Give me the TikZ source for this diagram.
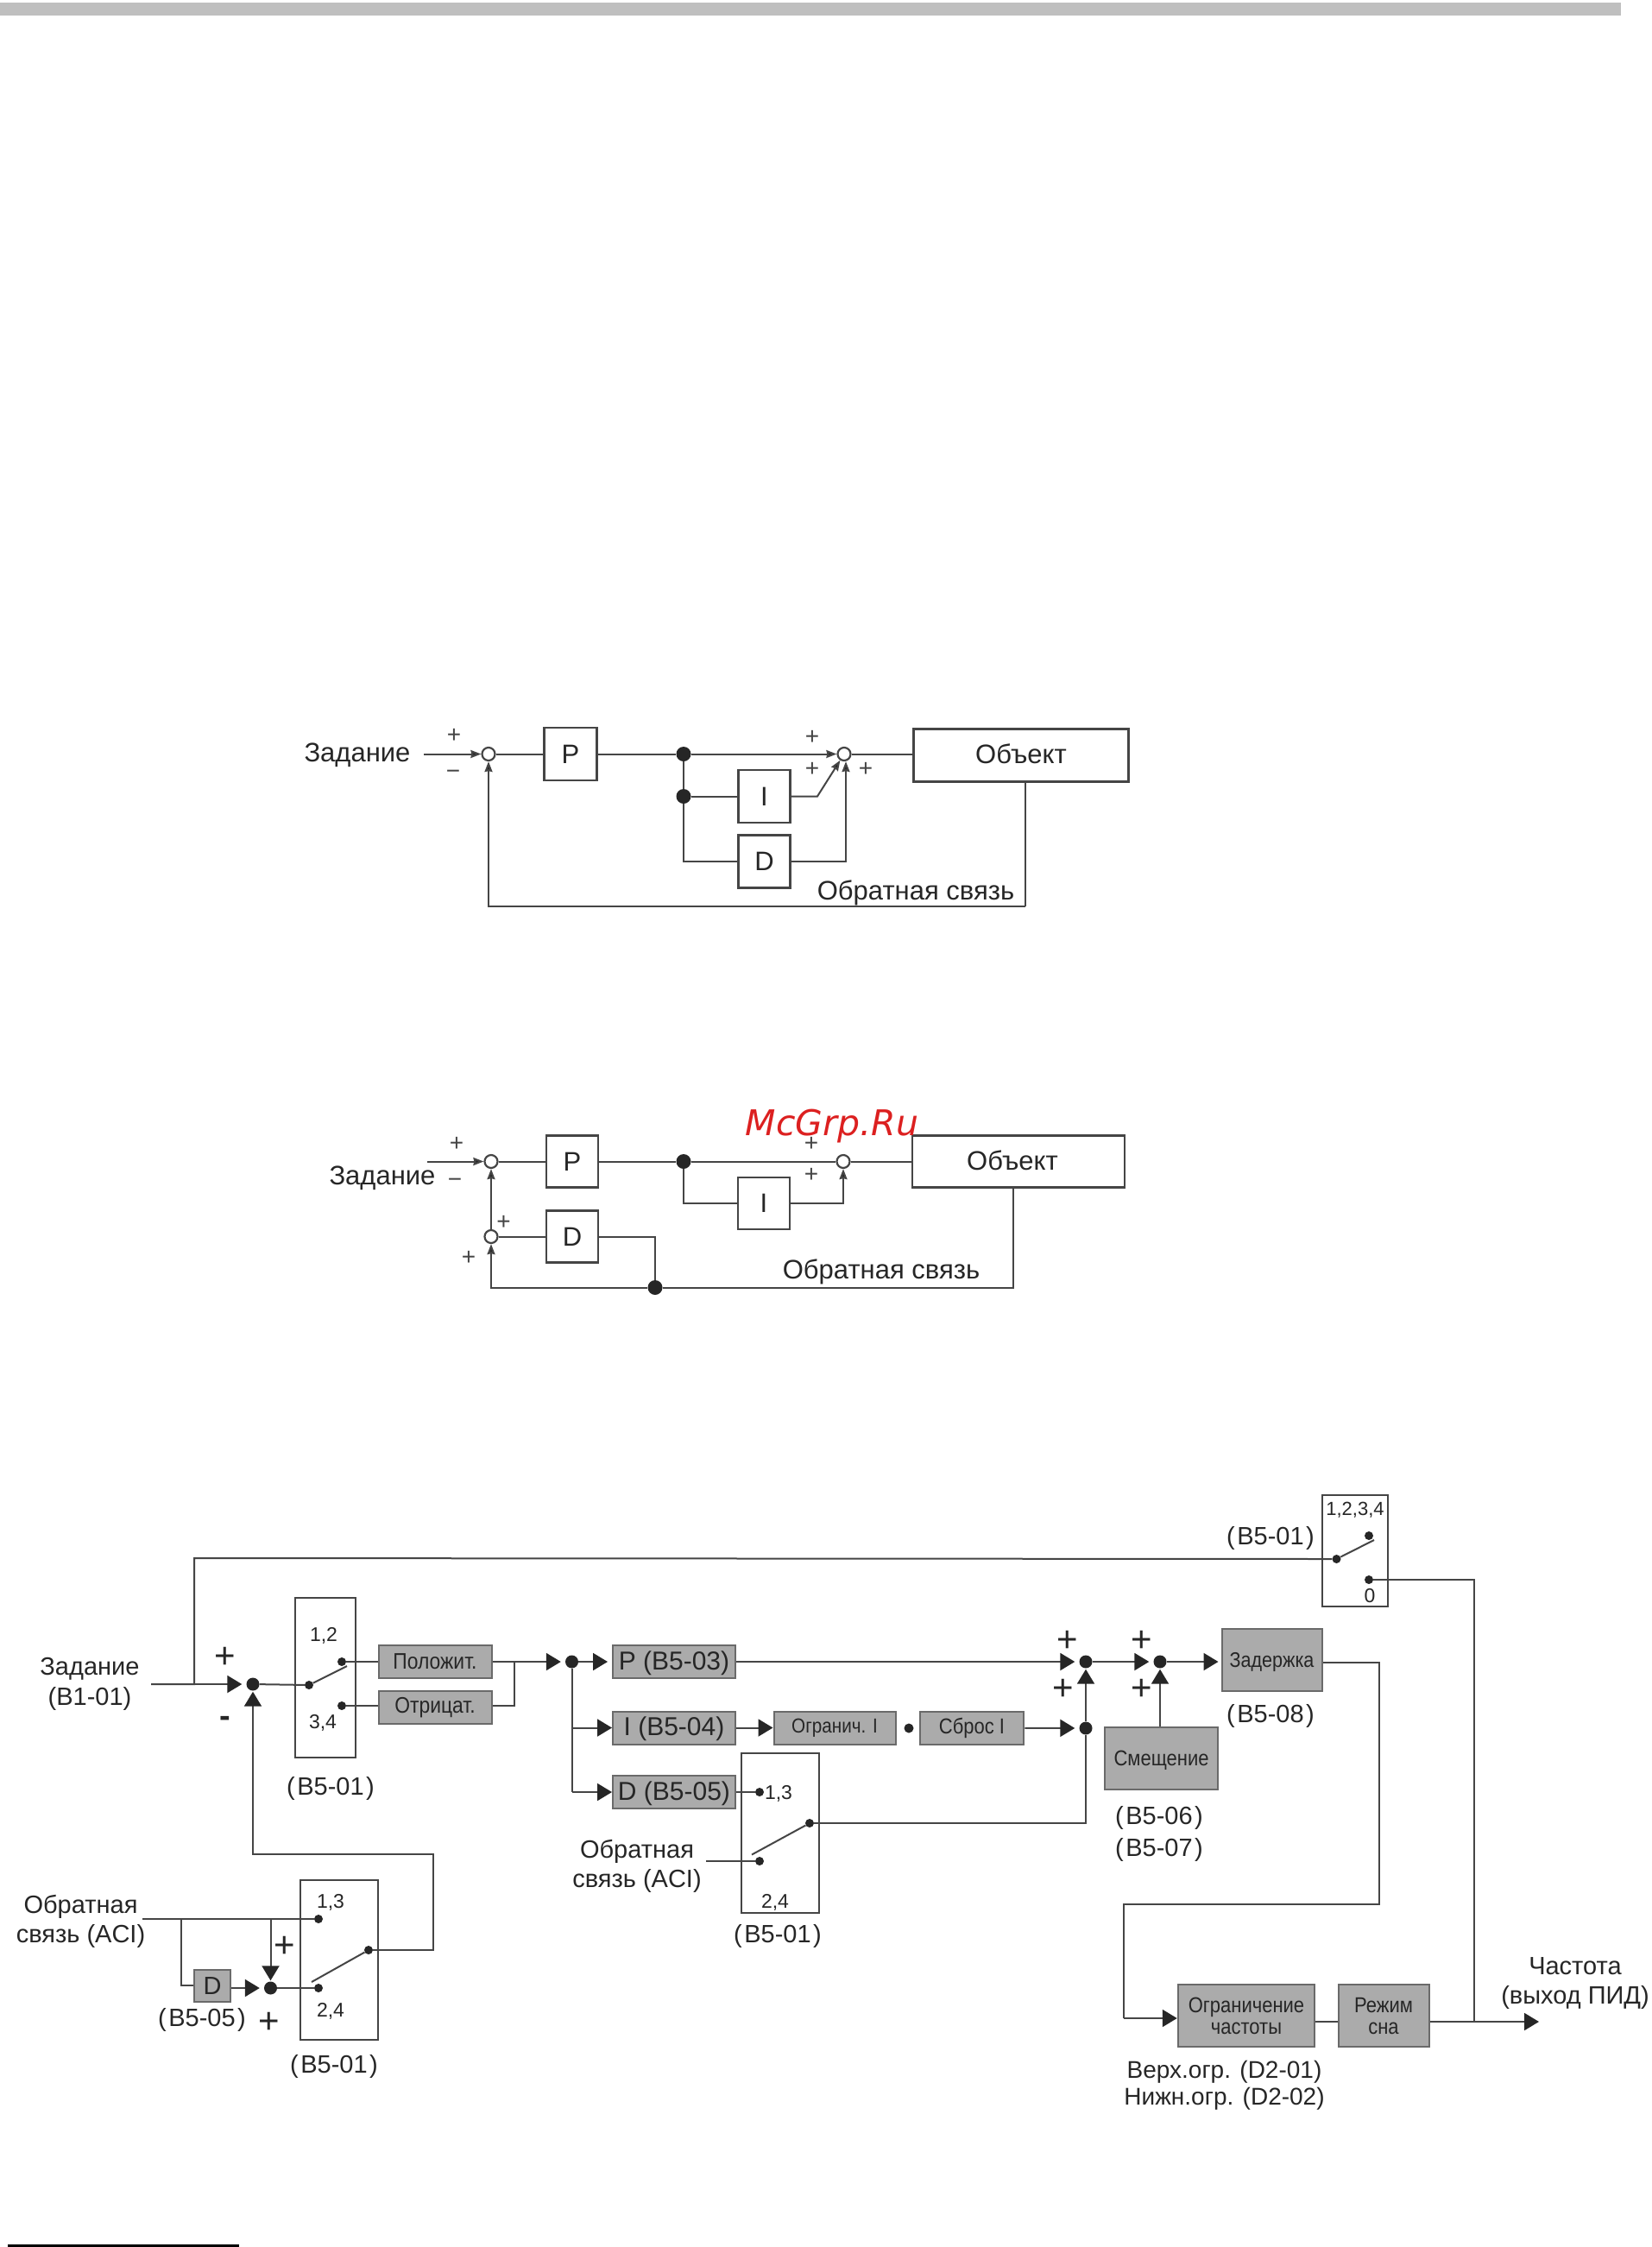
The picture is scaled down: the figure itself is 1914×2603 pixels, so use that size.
\documentclass[tikz,border=0pt]{standalone}
\usepackage{fontspec}
\setmainfont{Liberation Sans}
\newfontfamily\markfont{DejaVu Sans}
\newfontfamily\narrowfont[FakeStretch=0.88]{Liberation Sans}
\usetikzlibrary{arrows.meta}
\definecolor{linegray}{HTML}{454545}
\definecolor{boxgray}{HTML}{ABABAB}
\definecolor{textgray}{HTML}{262626}
\definecolor{markred}{HTML}{DC2020}
\newcommand{\fs}[1]{\fontsize{#1}{#1}\selectfont}
\newcommand{\pnum}[1]{(\kern2.5pt #1\kern2.5pt)}
\tikzset{
  wire/.style={draw=linegray,line width=2pt},
  thinarrow/.style={wire,-{Stealth[length=12pt,width=9pt,inset=1pt,fill=black!85]}},
  bigarrow/.style={wire,-{Triangle[length=17pt,width=20pt,fill=black!85,color=black!85]},shorten >=5pt},
  plainbox/.style={draw=linegray,line width=2.2pt,fill=white,inner sep=0pt,font=\fs{31},text=textgray},
  graybox/.style={draw=linegray!80,line width=2pt,fill=boxgray,inner sep=0pt,font=\narrowfont\fs{26},text=textgray,align=center},
  selbox/.style={draw=linegray,line width=2pt,inner sep=0pt},
  sumring/.style={circle,draw=linegray,line width=2.2pt,fill=white,inner sep=0pt,minimum size=15pt},
  sumdot/.style={circle,fill=black!85,inner sep=0pt,minimum size=15pt},
  pin/.style={circle,fill=black!85,inner sep=0pt,minimum size=10pt},
  label/.style={text=textgray,font=\fs{29},inner sep=0pt,align=center,yshift=-2.5pt},
  small/.style={text=textgray,font=\fs{23},inner sep=0pt,yshift=-1.5pt},
  bigplus/.style={text=black!85,font=\fs{42},inner sep=0pt,yshift=-3pt,xshift=1pt},
  thinplus/.style={text=linegray,font=\fs{28},inner sep=0pt,yshift=-1.5pt,xshift=1pt},
}
\begin{document}
\begin{tikzpicture}[x=1pt,y=-1pt]
    \useasboundingbox (0,0) rectangle (1914,2603);
    \fill[black!25] (0,3) rectangle (1878,18);
    \fill[black] (9,2600) rectangle (277,2603);

    % first loop
    \node [label,font=\fs{31}] (aref) at (414,872) {Задание};
    \coordinate (ain) at (491,873.5);
    \node [sumring] (asum) at (566,873.5) {};
    \node [plainbox,minimum width=61pt,minimum height=61pt] (ap) at (661,873.5) {P};
    \node [sumdot,minimum size=17pt] (ad1) at (792,873.5) {};
    \node [sumdot,minimum size=17pt] (ad2) at (792,922.5) {};
    \node [plainbox,minimum width=60pt,minimum height=61pt] (ai) at (885.5,922.5) {I};
    \node [plainbox,minimum width=60pt,minimum height=61pt] (ad) at (885.5,998) {D};
    \node [sumring] (asum2) at (978,873.5) {};
    \node [plainbox,minimum width=249pt,minimum height=61pt] (aobj) at (1183,875) {\raisebox{4pt}{Объект}};
    \coordinate (acorner) at (947,922.5);
    \coordinate (aback) at (1188,1050);
    \node [label,font=\fs{31}] (afb) at (1061,1032) {Обратная связь};
    \draw[thinarrow] (ain) -- (asum);
    \draw[wire] (asum) -- (ap);
    \draw[wire] (ap) -- (ad1);
    \draw[thinarrow] (ad1) -- (asum2);
    \draw[wire] (ad1) -- (ad2);
    \draw[wire] (ad2) -- (ai);
    \draw[wire] (ad2) |- (ad);
    \draw[thinarrow] (ai.east) -- (acorner) -- (asum2);
    \draw[thinarrow] (ad.east) -| ([xshift=2pt]asum2.south);
    \draw[wire] (asum2) -- (aobj.west |- asum2);
    \draw[wire] (aobj.south -| aback) -- (aback);
    \draw[thinarrow] (aback) -| (asum);
    \node [thinplus] (ap1) at (525,851) {+};
    \node [thinplus] (am1) at (524,896) {−};
    \node [thinplus] (ap2) at (940,853) {+};
    \node [thinplus] (ap3) at (940,889.5) {+};
    \node [thinplus] (ap4) at (1002,889.5) {+};

    % second loop
    \node [label,font=\fs{31}] (bref) at (443,1362) {Задание};
    \coordinate (bin) at (495,1345.5);
    \node [sumring] (bsum) at (569,1345.5) {};
    \node [plainbox,minimum width=60pt,minimum height=60pt] (bp) at (663,1345.5) {P};
    \node [sumdot,minimum size=17pt] (bd1) at (792,1345.5) {};
    \node [plainbox,minimum width=60pt,minimum height=60pt] (bi) at (885,1394) {I};
    \node [sumring] (bsum2) at (977,1345.5) {};
    \node [plainbox,minimum width=246pt,minimum height=60pt] (bobj) at (1180,1345.5) {\raisebox{2pt}{Объект}\kern14pt};
    \node [plainbox,minimum width=60pt,minimum height=60pt] (bd) at (663,1432.5) {D};
    \node [sumring] (bsum3) at (569,1432.5) {};
    \node [sumdot,minimum size=17pt] (bd2) at (759,1491.5) {};
    \coordinate (bback) at (1174,1491.5);
    \node [label,font=\fs{31}] (bfb) at (1021,1471) {Обратная связь};
    \draw[thinarrow] (bin) -- (bsum);
    \draw[wire] (bsum) -- (bp);
    \draw[wire] (bp) -- (bd1);
    \draw[wire] (bd1) -- (bsum2);
    \draw[wire] (bsum2) -- (bobj);
    \draw[wire] (bd1) |- (bi);
    \draw[thinarrow] (bi) -| (bsum2);
    \draw[thinarrow] (bsum3) -- (bsum);
    \draw[wire] (bsum3) -- (bd);
    \draw[wire] (bd) -| (bd2);
    \draw[wire] (bobj.south -| bback) -- (bback) -- (bd2);
    \draw[thinarrow] (bd2) -| (bsum3);
    \node [thinplus] (bp1) at (528,1324) {+};
    \node [thinplus] (bm1) at (526,1369) {−};
    \node [thinplus] (bp2) at (939,1324) {+};
    \node [thinplus] (bp3) at (939,1360) {+};
    \node [thinplus] (bp4) at (582.5,1415) {+};
    \node [thinplus] (bp5) at (542,1456) {+};

    % PID scheme
    \node [label] (cref) at (104,1948) {Задание\\[6pt](B1-01)};
    \coordinate (cin) at (175,1951);
    \coordinate (cup) at (225,1951);
    \node [sumdot] (cs1) at (293,1951) {};
    \node [bigplus] (cp1) at (260,1917) {+};
    \node [bigplus,font=\fs{38}\bfseries] (cm1) at (260,1991) {-};
    % selector 1
    \node [selbox,minimum width=70pt,minimum height=185pt] (csel1) at (377,1943.5) {};
    \node [small] (c12) at (375,1893) {1,2};
    \node [small] (c34) at (374,1994) {3,4};
    \node [pin] (cq1) at (358,1952) {};
    \node [pin] (cq2) at (396,1925) {};
    \node [pin] (cq3) at (396,1976) {};
    \coordinate (clev1) at (402,1930);
    \node [label] (csl1) at (383,2069) {\pnum{B5-01}};
    \node [graybox,minimum width=131pt,minimum height=38pt] (cpos) at (504,1924.5) {Положит.};
    \node [graybox,minimum width=131pt,minimum height=38pt] (cneg) at (504,1978) {Отрицат.};
    \coordinate (cjoin) at (596,1925);
    \node [sumdot] (cs2) at (662.5,1925) {};
    \node [graybox,minimum width=142pt,minimum height=38pt,font=\fs{30},text depth=3pt] (cbp) at (781,1925) {P (B5-03)};
    \node [graybox,minimum width=142pt,minimum height=38pt,font=\fs{30},text depth=3pt] (cbi) at (781,2001.5) {I (B5-04)};
    \node [graybox,minimum width=142pt,minimum height=38pt,font=\fs{30},text depth=3pt] (cbd) at (781,2076) {D (B5-05)};
    \node [graybox,minimum width=141pt,minimum height=38pt,font=\narrowfont\fs{23.5}] (clim) at (967,2001.5) {Огранич. I};
    \node [pin,minimum size=11pt] (cgap) at (1053,2002) {};
    \node [graybox,minimum width=120.5pt,minimum height=38pt,font=\narrowfont\fs{25}] (crst) at (1126,2001.5) {Сброс I};
    % selector 2
    \node [selbox,minimum width=90pt,minimum height=185pt] (csel2) at (904,2123.5) {};
    \node [pin] (cr1) at (880,2076) {};
    \node [small] (c13) at (902,2076) {1,3};
    \node [pin] (cr2) at (880,2156) {};
    \node [pin] (cr3) at (938,2112) {};
    \coordinate (clev2) at (871,2148.5);
    \node [small] (c24) at (898,2202) {2,4};
    \node [label] (csl2) at (901,2240) {\pnum{B5-01}};
    \node [label] (cfb2) at (738,2159) {Обратная\\[5pt]связь (ACI)};
    \coordinate (cfbin2) at (818,2156);
    % summing points
    \node [sumdot] (cs3) at (1258,1925) {};
    \node [sumdot] (cs4) at (1258,2002) {};
    \node [sumdot] (cs5) at (1344,1925) {};
    \node [bigplus] (cp2) at (1236,1898) {+};
    \node [bigplus] (cp3) at (1231,1954) {+};
    \node [bigplus] (cp4) at (1322,1898) {+};
    \node [bigplus] (cp5) at (1322,1954) {+};
    \node [graybox,minimum width=116pt,minimum height=72pt,font=\narrowfont\fs{24.5},text depth=0pt] (cdel) at (1473.5,1923) {Задержка};
    \node [label] (cdl) at (1472,1985) {\pnum{B5-08}};
    \node [graybox,minimum width=131pt,minimum height=72pt,font=\narrowfont\fs{25},text depth=0pt] (cbias) at (1345.5,2037) {Смещение};
    \node [label] (cbl) at (1343,2121.5) {\pnum{B5-06}\\[8pt]\pnum{B5-07}};
    \coordinate (cb1) at (1598,1926);
    \coordinate (cb2) at (1598,2206);
    \coordinate (cb3) at (1302,2206);
    \coordinate (cb4) at (1302,2338);
    \node [graybox,minimum width=158.5pt,minimum height=72pt,font=\narrowfont\fs{25}] (cfl) at (1444,2335) {Ограничение\\[0pt]частоты};
    \node [graybox,minimum width=105pt,minimum height=72pt,font=\narrowfont\fs{25}] (csl) at (1603,2335) {Режим\\[0pt]сна};
    \node [label,font=\fs{28}] (cul) at (1418.5,2413.5) {Верх.огр. (D2-01)\\[3pt]Нижн.огр. (D2-02)};
    \coordinate (cjout) at (1708,2342);
    \coordinate (cout) at (1783,2342);
    \node [label] (cfreq) at (1825,2295) {Частота\\[5pt](выход ПИД)};
    % selector 3
    \node [selbox,minimum width=76.5pt,minimum height=129pt] (csel3) at (1570,1796) {};
    \node [small,font=\fs{22}] (c1234) at (1570,1748) {1,2,3,4};
    \node [small] (c0) at (1587,1847.5) {0};
    \node [pin] (cz1) at (1548.5,1806) {};
    \node [pin] (cz2) at (1586,1779) {};
    \node [pin] (cz3) at (1586,1830) {};
    \coordinate (clev3) at (1592,1784);
    \node [label] (csl3) at (1472,1779) {\pnum{B5-01}};
    \coordinate (ctop) at (225,1805);
    % selector 4
    \node [selbox,minimum width=90.5pt,minimum height=185pt] (csel4) at (393,2270.5) {};
    \node [small] (c13b) at (383,2202) {1,3};
    \node [small] (c24b) at (383,2328) {2,4};
    \node [pin] (cy1) at (369,2223) {};
    \node [pin] (cy2) at (369,2303) {};
    \node [pin] (cy3) at (427,2259) {};
    \coordinate (clev4) at (361,2296);
    \node [label] (csl4) at (387,2391) {\pnum{B5-01}};
    \node [label] (cfb1) at (93.5,2223.5) {Обратная\\[5pt]связь (ACI)};
    \coordinate (cfbin1) at (165,2223);
    \coordinate (cfbj1) at (209.5,2223);
    \coordinate (cfbj2) at (313.5,2223);
    \coordinate (cback1) at (501.5,2259);
    \coordinate (cback2) at (501.5,2148);
    \node [graybox,minimum width=42pt,minimum height=37pt,font=\fs{29}] (cdd) at (246,2300) {D};
    \node [sumdot] (cs6) at (313.5,2303) {};
    \node [label] (cdl2) at (234,2337) {\pnum{B5-05}};
    \node [bigplus] (cp6) at (329,2252) {+};
    \node [bigplus] (cp7) at (311,2340) {+};

    \draw[wire] (cin) -- (cup) -- (ctop) -- (cz1);
    \draw[bigarrow] (cup) -- (cs1);
    \draw[wire] (cs1) -- (cq1);
    \draw[wire] (cq1) -- (clev1);
    \draw[wire] (cq2) -- (cpos.west |- cq2);
    \draw[wire] (cq3) -- (cneg.west |- cq3);
    \draw[bigarrow] (cpos.east |- cs2) -- (cs2);
    \draw[wire] (cneg.east |- cq3) -| (cjoin);
    \draw[bigarrow] (cs2) -- (cbp);
    \draw[wire] (cs2) -- (cs2 |- cbd);
    \draw[bigarrow,shorten >=0pt] (cs2 |- cbi) -- (cbi);
    \draw[bigarrow,shorten >=0pt] (cs2 |- cbd) -- (cbd);
    \draw[bigarrow,shorten >=0pt] (cbi) -- (clim);
    \draw[bigarrow] (crst) -- (cs4);
    \draw[bigarrow] (cbp) -- (cs3);
    \draw[wire] (cbd) -- (cr1);
    \draw[wire] (cfbin2) -- (cr2);
    \draw[wire] (cr3) -- (clev2);
    \draw[wire] (cr3) -| (cs4);
    \draw[bigarrow,shorten >=1pt] (cs4) -- (cs3);
    \draw[bigarrow] (cs3) -- (cs5);
    \draw[bigarrow,shorten >=1pt] (cbias.north -| cs5) -- (cs5);
    \draw[bigarrow,shorten >=3pt] (cs5) -- (cdel.west |- cs5);
    \draw[wire] (cdel.east |- cb1) -- (cb1) -- (cb2) -- (cb3) -- (cb4);
    \draw[bigarrow,shorten >=0pt] (cb4) -- (cfl.west |- cb4);
    \draw[wire] (cfl.east |- cjout) -- (csl.west |- cjout);
    \draw[wire] (csl.east |- cjout) -- (cjout);
    \draw[bigarrow,shorten >=0pt] (cjout) -- (cout);
    \draw[wire] (cz3) -| (cjout);
    \draw[wire] (cz1) -- (clev3);
    \draw[wire] (cfbin1) -- (cy1);
    \draw[wire] (cfbj1) |- (cdd);
    \draw[bigarrow] (cdd.east |- cs6) -- (cs6);
    \draw[bigarrow,shorten >=1pt] (cfbj2) -- (cs6);
    \draw[wire] (cs6) -- (cy2);
    \draw[wire] (cy3) -- (clev4);
    \draw[bigarrow,shorten >=1pt] (cy3) -- (cback1) -- (cback2) -| (cs1);

    \node [text=markred,font=\markfont\itshape\fs{41},inner sep=0pt] (cmark) at (964,1305) {McGrp.Ru};
\end{tikzpicture}
\end{document}
